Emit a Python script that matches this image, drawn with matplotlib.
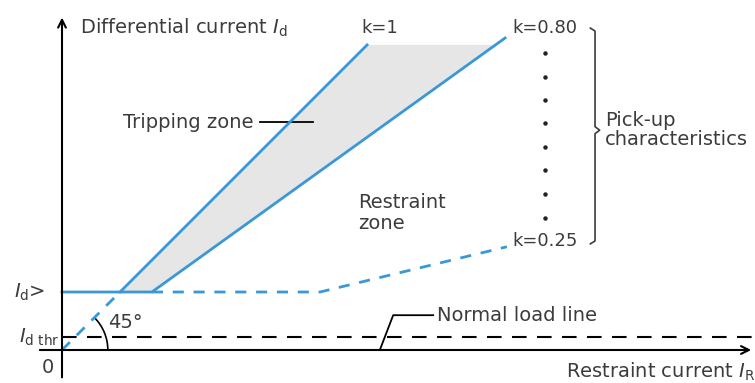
import numpy as np
import matplotlib
matplotlib.use("Agg")
import matplotlib.pyplot as plt
from matplotlib.patches import Arc

# characteristic (unit: I_d> = 1)
id_pickup = 1.0
id_thr = 0.22
x_zero = [0.0, 1.0]               # 45 deg dashed line to I_d>
y_zero = [0.0, 1.0]
x_k1 = [1.0, 5.26]                # k = 1
y_k1 = [1.0, 5.26]
x_k080 = [0.0, 1.55, 7.64]        # k = 0.80 (with I_d> plateau)
y_k080 = [1.0, 1.0, 5.38]
x_k025 = [1.55, 4.45, 7.67]       # k = 0.25 dashed
y_k025 = [1.0, 1.0, 1.78]
x_fill = [1.0, 5.26, 7.47, 1.55]  # grey zone between k=1 and k=0.80
y_fill = [1.0, 5.26, 5.26, 1.0]
x_thr = [0.0, 11.9]
dots_y = [5.12, 4.71, 4.31, 3.91, 3.50, 3.10, 2.69, 2.28]

blue = "#3a98d6"
txt = "#3c3c3c"
plt.rcParams["font.family"] = ["DejaVu Sans"]
plt.rcParams["mathtext.fontset"] = "dejavusans"
fs = 14
fk = 13

fig = plt.figure(figsize=(7.55, 3.83), dpi=100)
ax = fig.add_axes([0, 0, 1, 1])
ax.set_xlim(-62 / 58, (755 - 62) / 58)
ax.set_ylim(-33 / 58, 350 / 58)
ax.axis("off")

ax.fill(x_fill, y_fill, color="#e6e6e6", lw=0, zorder=1)
ax.plot(x_k1, y_k1, color=blue, lw=2, zorder=3)
ax.plot(x_k080, y_k080, color=blue, lw=2, zorder=3)
ax.plot(x_k025, y_k025, color=blue, lw=2, ls=(0, (4, 3.5)), zorder=2)
ax.plot(x_zero, y_zero, color=blue, lw=2, ls=(0, (4, 3.5)), zorder=2)
ax.plot(x_thr, [id_thr, id_thr], color="black", lw=1.5, ls=(0, (7, 5)), zorder=2)

# axes with arrows
ax.annotate("", xy=(0, 5.78), xytext=(0, -0.52),
            arrowprops=dict(arrowstyle="->", lw=1.5, color="black", mutation_scale=14))
ax.annotate("", xy=(11.93, 0), xytext=(-0.43, 0),
            arrowprops=dict(arrowstyle="->", lw=1.5, color="black", mutation_scale=14))

# 45 deg arc
ax.add_patch(Arc((0, 0), 2 * 0.79, 2 * 0.79, theta1=0, theta2=45, color="black", lw=1.2))
ax.text(0.79, 0.48, "45°", fontsize=fs, color=txt, va="center")

# dots and brace
ax.plot([8.33] * len(dots_y), dots_y, ls="none", marker="o", ms=2.2, color="#222222")
bx = 9.19
ax.plot([bx - 0.08, bx, bx, bx + 0.08, bx, bx, bx - 0.08],
        [5.55, 5.50, 3.85, 3.79, 3.73, 1.88, 1.83], color=txt, lw=1.2)

# labels
ax.text(0.31, 5.55, "Differential current $I_\\mathrm{d}$", fontsize=fs, color=txt, va="center")
ax.text(5.17, 5.55, "k=1", fontsize=fk, color=txt, va="center")
ax.text(7.76, 5.55, "k=0.80", fontsize=fk, color=txt, va="center")
ax.text(7.76, 1.88, "k=0.25", fontsize=fk, color=txt, va="center")
ax.text(9.36, 3.79, "Pick-up\ncharacteristics", fontsize=fs, color=txt, va="center",
        linespacing=1.0)
ax.text(5.10, 2.36, "Restraint\nzone", fontsize=fs, color=txt, va="center", linespacing=1.1)
ax.text(1.05, 3.93, "Tripping zone", fontsize=fs, color=txt, va="center")
ax.plot([3.41, 4.33], [3.93, 3.93], color="black", lw=1.3)
ax.text(6.47, 0.60, "Normal load line", fontsize=fs, color=txt, va="center")
ax.plot([5.48, 5.71, 6.40], [0.0, 0.60, 0.60], color="black", lw=1.3)
ax.text(-0.29, id_pickup, "$I_\\mathrm{d}$>", fontsize=fs, color=txt, va="center", ha="right")
ax.text(-0.05, id_thr, "$I_\\mathrm{d\\ thr}$", fontsize=fs, color=txt, va="center", ha="right")
ax.text(-0.24, -0.31, "0", fontsize=fs, color=txt, va="center", ha="center")
ax.text(11.95, -0.38, "Restraint current $I_\\mathrm{R}$", fontsize=fs, color=txt,
        va="center", ha="right")

fig.savefig("out.png", dpi=100)
